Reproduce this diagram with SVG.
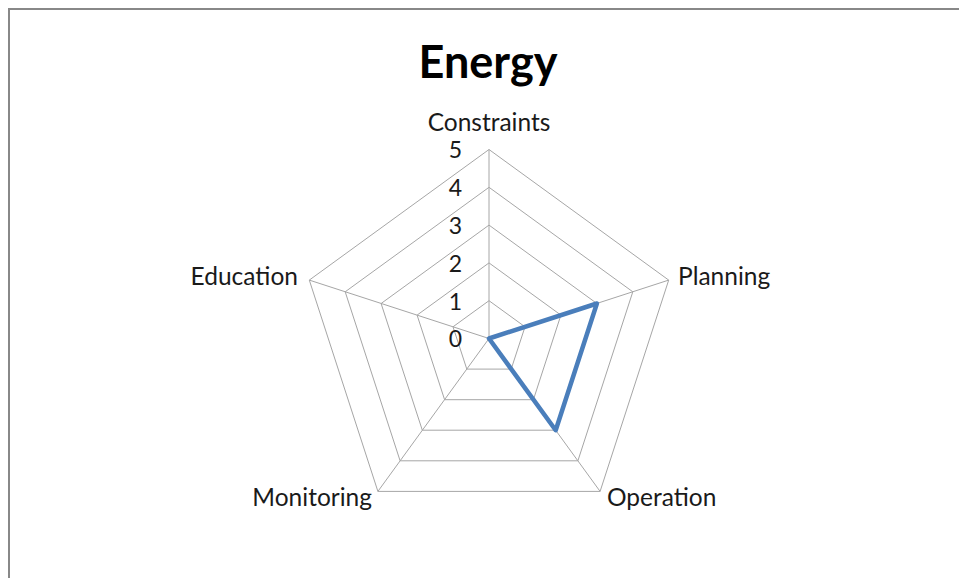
<svg xmlns="http://www.w3.org/2000/svg" width="959" height="578" viewBox="0 0 959 578">
<style>
.lbl{font-family:Lato,"Liberation Sans",sans-serif;font-size:24.5px;fill:#1a1a1a}
.num{font-family:Lato,"Liberation Sans",sans-serif;font-size:23px;fill:#1a1a1a;text-anchor:end}
.grid{fill:none;stroke:#a6a6a6;stroke-width:1}
</style>
<rect x="9" y="9" width="980" height="600" fill="#fff" stroke="#888" stroke-width="2"/>
<text x="488" y="78" text-anchor="middle" style="font-family:Lato,'Liberation Sans',sans-serif;font-size:45px;font-weight:bold;fill:#000">Energy</text>
<g id="grid">
<polygon class="grid" points="489,149.5 668.7,280.1 600.1,491.4 377.9,491.4 309.3,280.1"/>
<polygon class="grid" points="489,187.3 632.8,291.8 577.9,460.8 400.1,460.8 345.2,291.8"/>
<polygon class="grid" points="489,225.1 596.9,303.5 555.7,430.2 422.3,430.2 381.1,303.5"/>
<polygon class="grid" points="489,262.9 560.9,315.1 533.4,399.7 444.6,399.7 417.1,315.1"/>
<polygon class="grid" points="489,300.7 525,326.8 511.2,369.1 466.8,369.1 453,326.8"/>
<path class="grid" d="M489,338.5V149.5M489,338.5L668.7,280.1M489,338.5L600.1,491.4M489,338.5L377.9,491.4M489,338.5L309.3,280.1"/>
</g>
<g id="axis-values">
<text class="num" x="462" y="158">5</text>
<text class="num" x="462" y="196">4</text>
<text class="num" x="462" y="234">3</text>
<text class="num" x="462" y="272">2</text>
<text class="num" x="462" y="310">1</text>
<text class="num" x="462" y="347">0</text>
</g>
<g id="constraints"><text class="lbl" x="489" y="131" text-anchor="middle">Constraints</text></g>
<g id="planning"><text class="lbl" x="678" y="285">Planning</text></g>
<g id="operation"><text class="lbl" x="607" y="506">Operation</text></g>
<g id="monitoring"><text class="lbl" x="372" y="506" text-anchor="end">Monitoring</text></g>
<g id="education"><text class="lbl" x="298" y="285" text-anchor="end">Education</text></g>
<g id="series">
<polygon points="489,338.5 596.9,303.5 555.7,430.2 489,338.5 489,338.5" fill="none" stroke="#4a7ebb" stroke-width="4.5" stroke-linejoin="round"/>
</g>
</svg>
